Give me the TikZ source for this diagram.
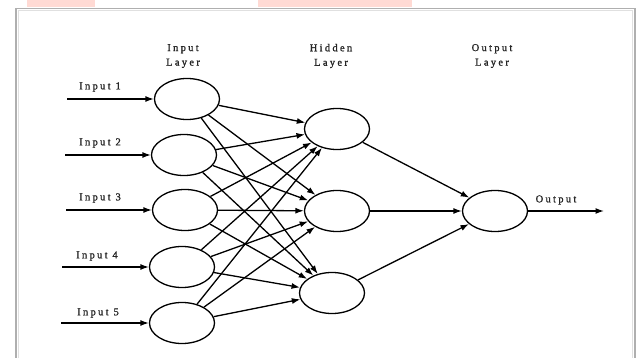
\documentclass[tikz,border=0pt]{standalone}
\usepackage{fontspec}
\setmainfont{Liberation Serif}[LetterSpace=22,FakeBold=1.2]
\usetikzlibrary{arrows.meta,shapes.geometric}
\definecolor{wmpink}{RGB}{255,218,212}
\definecolor{framegray}{RGB}{175,175,175}
\begin{document}
\begin{tikzpicture}[x=1pt,y=-1pt,
  neuron/.style={ellipse,draw,line width=1.3pt,minimum width=65pt,minimum height=41pt,inner sep=0pt},
  conn/.style={line width=1.3pt,-{Latex[length=8.5pt,width=6pt]}},
  lbl/.style={font=\fontsize{10.5}{14.5}\selectfont,text=black!85,inner sep=0pt},
  layerlbl/.style={lbl,align=center}]
\useasboundingbox (0,0) rectangle (640,358);
\fill[white] (0,0) rectangle (640,358);
% watermark patches
\fill[wmpink] (27,0) rectangle (95,7);
\fill[wmpink] (258,0) rectangle (412,7);
% frame
\draw[framegray,line width=1.6pt] (16,358) -- (16,8.5) -- (635,8.5) -- (635,358);
\draw[black!12,line width=1pt] (18.5,358) -- (18.5,11) -- (632.5,11) -- (632.5,358);

% layer labels
\node[layerlbl] (tin) at (183,56) {Input\\Layer};
\node[layerlbl] (thid) at (331,56) {Hidden\\Layer};
\node[layerlbl] (tout) at (492,56) {Output\\Layer};

% input neurons
\node[neuron] (i1) at (187,99) {};
\node[neuron] (i2) at (184,155) {};
\node[neuron] (i3) at (185,210) {};
\node[neuron] (i4) at (182,267) {};
\node[neuron] (i5) at (182,323) {};
% hidden neurons
\node[neuron] (h1) at (337,129) {};
\node[neuron] (h2) at (337,211) {};
\node[neuron] (h3) at (332,293) {};
% output neuron
\node[neuron] (o) at (495,211) {};

% input arrows
\coordinate (s1) at (67,99);
\coordinate (s2) at (65,155);
\coordinate (s3) at (66,210);
\coordinate (s4) at (62,267);
\coordinate (s5) at (61,323);
\foreach \k in {1,...,5} \draw[conn] (s\k) -- (i\k);
\node[lbl] (l1) at (100,87) {Input 1};
\node[lbl] (l2) at (100,143) {Input 2};
\node[lbl] (l3) at (100,198) {Input 3};
\node[lbl] (l4) at (97,256) {Input 4};
\node[lbl] (l5) at (98,313) {Input 5};

% input -> hidden
\foreach \a in {1,...,5}
  \foreach \b in {1,2,3}
    \draw[conn] (i\a) -- (h\b);
% hidden -> output
\foreach \b in {1,2,3} \draw[conn] (h\b) -- (o);
% output arrow
\coordinate (oe) at (604,211);
\draw[conn] (o) -- (oe);
\node[lbl] (lo) at (556,200) {Output};
\end{tikzpicture}
\end{document}
